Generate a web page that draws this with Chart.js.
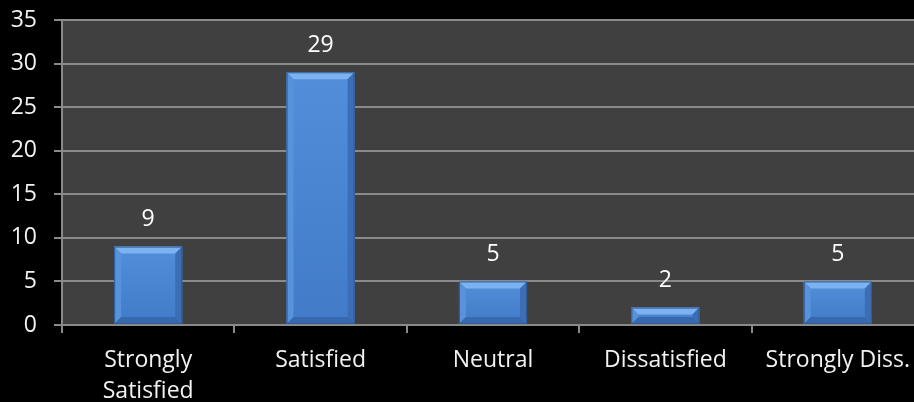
<!DOCTYPE html>
<html>
<head>
<title>Satisfaction</title>
<script src="https://cdn.jsdelivr.net/npm/chart.js"></script>
<style>
  html, body { margin: 0; padding: 0; background: #000; overflow: hidden; }
  #wrap { width: 924px; height: 402px; position: relative; }
</style>
</head>
<body>
<div id="wrap"><canvas id="chart"></canvas></div>
<script>
const categories = [['Strongly', 'Satisfied'], 'Satisfied', 'Neutral', 'Dissatisfied', 'Strongly Diss.'];
const counts = [9, 29, 5, 2, 5];
const yMax = 35;
const yStep = 5;

const FONT = '"Open Sans", sans-serif';
const FSIZE = 23;

// dark plot background
const plotBg = {
  id: 'plotBg',
  beforeDraw(chart) {
    const a = chart.chartArea, ctx = chart.ctx;
    ctx.save();
    ctx.fillStyle = '#404040';
    ctx.fillRect(a.left, a.top, a.right - a.left, a.bottom - a.top);
    ctx.restore();
  }
};

// bevel look on bars + value labels above
const bevelBars = {
  id: 'bevelBars',
  afterDatasetsDraw(chart) {
    const ctx = chart.ctx;
    const meta = chart.getDatasetMeta(0);
    ctx.save();
    meta.data.forEach((bar, i) => {
      const l = bar.x - bar.width / 2, r = bar.x + bar.width / 2;
      const t = bar.y, b = bar.base;
      const bv = Math.min(7, (b - t) / 2);
      const g = ctx.createLinearGradient(0, t, 0, b);
      g.addColorStop(0, '#528ed9');
      g.addColorStop(1, '#417bc9');
      ctx.fillStyle = g;
      ctx.fillRect(l, t, r - l, b - t);
      // top bevel
      ctx.fillStyle = '#7cb2ef';
      ctx.beginPath();
      ctx.moveTo(l, t); ctx.lineTo(r, t); ctx.lineTo(r - bv, t + bv); ctx.lineTo(l + bv, t + bv);
      ctx.closePath(); ctx.fill();
      // left
      ctx.fillStyle = '#5892da';
      ctx.beginPath();
      ctx.moveTo(l, t); ctx.lineTo(l + bv, t + bv); ctx.lineTo(l + bv, b - bv); ctx.lineTo(l, b);
      ctx.closePath(); ctx.fill();
      // right
      ctx.fillStyle = '#3b6eb4';
      ctx.beginPath();
      ctx.moveTo(r, t); ctx.lineTo(r - bv, t + bv); ctx.lineTo(r - bv, b - bv); ctx.lineTo(r, b);
      ctx.closePath(); ctx.fill();
      // bottom
      ctx.fillStyle = '#3869b0';
      ctx.beginPath();
      ctx.moveTo(l, b); ctx.lineTo(l + bv, b - bv); ctx.lineTo(r - bv, b - bv); ctx.lineTo(r, b);
      ctx.closePath(); ctx.fill();
      ctx.strokeStyle = '#2e5a96';
      ctx.lineWidth = 1;
      ctx.strokeRect(l + 0.5, t + 0.5, r - l - 1, b - t - 1);

      ctx.fillStyle = '#ffffff';
      ctx.font = FSIZE + 'px ' + FONT;
      ctx.textAlign = 'center';
      ctx.textBaseline = 'middle';
      ctx.fillText(String(counts[i]), bar.x, t - 27);
    });
    ctx.restore();
  }
};

new Chart(document.getElementById('chart'), {
  type: 'bar',
  data: {
    labels: categories,
    datasets: [{
      data: counts,
      backgroundColor: 'rgba(0,0,0,0)',
      borderWidth: 0,
      categoryPercentage: 1,
      barPercentage: 0.395
    }]
  },
  options: {
    responsive: true,
    maintainAspectRatio: false,
    animation: false,
    layout: { padding: { top: 20, right: 0, bottom: 0, left: 0 } },
    plugins: { legend: { display: false }, tooltip: { enabled: false } },
    scales: {
      x: {
        offset: true,
        grid: { display: true, drawOnChartArea: false, drawTicks: true, tickLength: 8, color: '#8a8a8a', lineWidth: 2, offset: true },
        border: { display: true, color: '#8a8a8a', width: 2 },
        ticks: { color: '#f2f2f2', font: { family: FONT, size: FSIZE, lineHeight: 1.35 }, padding: 12, maxRotation: 0, autoSkip: false },
        afterFit(s) { s.height = 77; s.paddingLeft = 0; s.paddingRight = 0; }
      },
      y: {
        min: 0,
        max: yMax,
        ticks: { stepSize: yStep, color: '#f2f2f2', font: { family: FONT, size: FSIZE }, padding: 17 },
        grid: { color: '#8a8a8a', lineWidth: 2, tickLength: 8 },
        border: { display: true, color: '#8a8a8a', width: 2 },
        afterFit(s) { s.width = 62; s.paddingTop = 0; s.paddingBottom = 0; }
      }
    }
  },
  plugins: [plotBg, bevelBars]
});
</script>
</body>
</html>
